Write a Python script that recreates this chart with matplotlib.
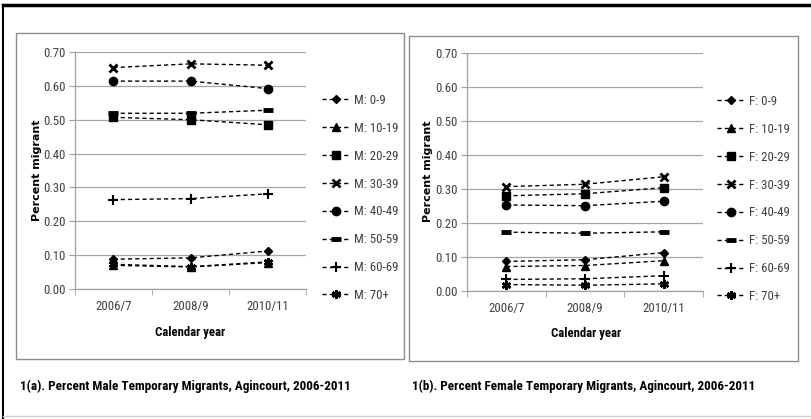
import numpy as np
import matplotlib.pyplot as plt
from matplotlib import font_manager
from matplotlib.patches import Rectangle
from matplotlib.lines import Line2D

# ============================================================
# DATA
# ============================================================

years = ["2006/7", "2008/9", "2010/11"]
groups = ["0-9", "10-19", "20-29", "30-39", "40-49", "50-59", "60-69", "70+"]

male = [
    [0.088, 0.092, 0.112],   # 0-9
    [0.070, 0.065, 0.078],   # 10-19
    [0.507, 0.500, 0.485],   # 20-29
    [0.654, 0.665, 0.661],   # 30-39
    [0.614, 0.614, 0.592],   # 40-49
    [0.519, 0.519, 0.528],   # 50-59
    [0.264, 0.267, 0.281],   # 60-69
    [0.073, 0.066, 0.080],   # 70+
]

female = [
    [0.087, 0.092, 0.113],   # 0-9
    [0.072, 0.075, 0.089],   # 10-19
    [0.280, 0.286, 0.304],   # 20-29
    [0.307, 0.314, 0.336],   # 30-39
    [0.253, 0.251, 0.264],   # 40-49
    [0.173, 0.170, 0.174],   # 50-59
    [0.034, 0.036, 0.045],   # 60-69
    [0.019, 0.017, 0.021],   # 70+
]

yticks = [0.0, 0.1, 0.2, 0.3, 0.4, 0.5, 0.6, 0.7]

# ============================================================
# STYLE
# ============================================================

W, H = 812, 419
TXT = "#404040"

installed = {f.name for f in font_manager.fontManager.ttflist}
NARROW = "DejaVu Sans"
for cand in ["Liberation Sans Narrow", "DejaVu Sans Condensed",
             "Roboto Condensed", "Open Sans Condensed", "Liberation Sans",
             "Roboto"]:
    if cand in installed:
        NARROW = cand
        break

markers = [
    dict(marker="D", ms=4.5),
    dict(marker="^", ms=5.5),
    dict(marker="s", ms=5.5),
    dict(marker="x", ms=5.5, mew=2),
    dict(marker="o", ms=6),
    dict(marker="_", ms=7, mew=3.5),
    dict(marker="+", ms=7, mew=1.5),
    dict(marker=(6, 2, 0), ms=6.5, mew=1.8),
]


def fx(px):
    return px / W


def fy(py):
    return 1 - py / H


fig = plt.figure(figsize=(W / 100, H / 100), dpi=100)
renderer = fig.canvas.get_renderer()


def fit_size(s, target_px, **kw):
    # font size at which string s is target_px wide
    t = fig.text(0, 0, s, fontsize=10, **kw)
    w = t.get_window_extent(renderer).width
    t.remove()
    return 10 * target_px / w


# the reference font (Calibri) is narrower than what is installed,
# so sizes sit a bit above a pure width fit
TICK_FS = fit_size("2006/7", 36, family=NARROW)
LEG_FS = fit_size("M: 10-19", 44, family=NARROW)
XLAB_FS = fit_size("Calendar year", 70, family=NARROW, fontweight="bold")
CAP_FS = fit_size("1(a). Percent Male Temporary Migrants, Agincourt, 2006-2011",
                  330, family=NARROW, fontweight="bold")
YLAB_FS = fit_size("Percent migrant", 102, fontweight="bold")


def draw_panel(rect, data, prefix, leg_xy):
    l, t, r, b = rect
    ax = fig.add_axes([fx(l), fy(b), fx(r - l), (b - t) / H])
    x = np.arange(len(years))
    handles = []
    for vals, g, mk in zip(data, groups, markers):
        h, = ax.plot(x, vals, color="black", ls=(0, (3, 2.2)), lw=1.0,
                     mfc="black", mec="black", label=f"{prefix}: {g}", **mk)
        handles.append(h)

    ax.set_xlim(-0.5, 2.5)
    ax.set_ylim(0, 0.70)
    ax.set_yticks(yticks)
    ax.set_yticklabels([f"{v:.2f}" for v in yticks])
    ax.set_xticks(x)
    ax.set_xticklabels(years)
    ax.set_xticks([-0.5, 0.5, 1.5, 2.5], minor=True)
    ax.tick_params(axis="x", which="major", length=0, pad=8,
                   labelsize=TICK_FS, labelcolor=TXT)
    ax.tick_params(axis="x", which="minor", length=4, color="#a0a0a0",
                   direction="out")
    ax.tick_params(axis="y", length=4, color="#a0a0a0", pad=3,
                   labelsize=TICK_FS, labelcolor=TXT)
    for lab in ax.get_xticklabels() + ax.get_yticklabels():
        lab.set_family(NARROW)

    ax.grid(axis="y", color="#a6a6a6", lw=0.9)
    ax.set_axisbelow(True)
    for s in ["top", "right"]:
        ax.spines[s].set_visible(False)
    for s in ["left", "bottom"]:
        ax.spines[s].set_color("#a0a0a0")
        ax.spines[s].set_linewidth(0.9)

    # row pitch of ~27.7 px in the reference
    row_px = LEG_FS * 100 / 72
    spacing = (27.7 - row_px) / row_px
    leg = fig.legend(handles=handles, loc="upper left",
                     bbox_to_anchor=(fx(leg_xy[0]), fy(leg_xy[1])),
                     frameon=False, handlelength=28 / row_px, handletextpad=0.3,
                     labelspacing=spacing, borderpad=0, borderaxespad=0,
                     prop=dict(family=NARROW, size=LEG_FS))
    for tx in leg.get_texts():
        tx.set_color(TXT)
    return ax


# page frame
fig.add_artist(Line2D([fx(3), 1], [fy(5), fy(5)], color="black", lw=2.5))
fig.add_artist(Line2D([fx(3), fx(3)], [fy(5), 0], color="black", lw=1.5))
fig.add_artist(Line2D([fx(3), 1], [fy(416), fy(416)], color="#d0d0d0", lw=1))

# chart boxes
fig.add_artist(Rectangle((fx(16), fy(359)), fx(388), 326 / H,
                         fill=False, ec="#8c8c8c", lw=1))
fig.add_artist(Rectangle((fx(409), fy(361)), fx(389), 325 / H,
                         fill=False, ec="#8c8c8c", lw=1))

draw_panel((75, 52, 306, 289), male, "M", (322, 94))
draw_panel((467, 53, 703, 291), female, "F", (717, 95))

# axis titles
for cx, cy in [(37, 170), (428, 171)]:
    fig.text(fx(cx), fy(cy), "Percent migrant", rotation=90, ha="center",
             va="center", fontsize=YLAB_FS, fontweight="bold")
for cx, cy in [(190, 332), (586, 333)]:
    fig.text(fx(cx), fy(cy), "Calendar year", ha="center", va="center",
             fontsize=XLAB_FS, fontweight="bold", family=NARROW)

# captions
fig.text(fx(20), fy(386), "1(a). Percent Male Temporary Migrants, Agincourt, 2006-2011",
         ha="left", va="center", fontsize=CAP_FS, fontweight="bold", family=NARROW)
fig.text(fx(412), fy(386), "1(b). Percent Female Temporary Migrants, Agincourt, 2006-2011",
         ha="left", va="center", fontsize=CAP_FS, fontweight="bold", family=NARROW)

fig.savefig("out.png", dpi=100)
